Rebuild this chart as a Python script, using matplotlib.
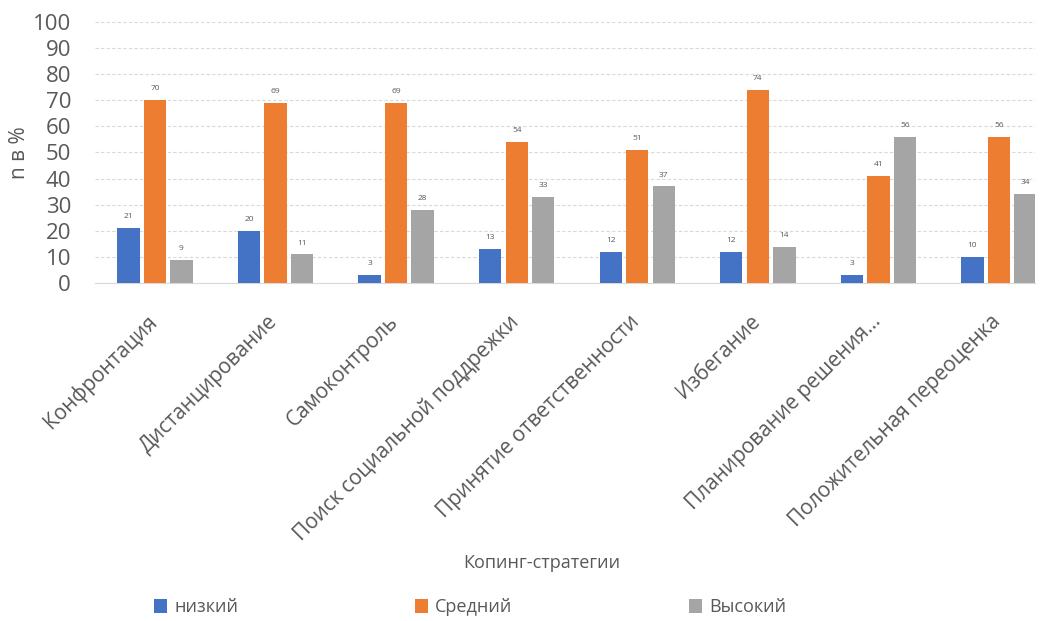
import numpy as np
import matplotlib.pyplot as plt

plt.rcParams['font.family'] = ['Open Sans', 'DejaVu Sans']

categories = ['Конфронтация', 'Дистанцирование', 'Самоконтроль',
              'Поиск социальной поддрежки', 'Принятие ответственности',
              'Избегание', 'Планирование решения...', 'Положительная переоценка']
low = [21, 20, 3, 13, 12, 12, 3, 10]
mid = [70, 69, 69, 54, 51, 74, 41, 56]
high = [9, 11, 28, 33, 37, 14, 56, 34]
series_names = ['низкий', 'Средний', 'Высокий']
colors = ['#4472C4', '#ED7D31', '#A5A5A5']
text_col = '#595959'

fig = plt.figure(figsize=(10.52, 6.21), dpi=100)
ax = fig.add_axes([0.090, 0.544, 0.894, 0.421])

x = np.arange(len(categories))
w = 0.185
off = 0.22
for i, (vals, name, c) in enumerate(zip([low, mid, high], series_names, colors)):
    bars = ax.bar(x + (i - 1) * off, vals, w, color=c, label=name, zorder=3)
    for b, v in zip(bars, vals):
        ax.text(b.get_x() + b.get_width() / 2, v + 3, str(v), ha='center',
                va='bottom', fontsize=6, color=text_col)

ax.set_xlim(-0.5, 7.3)
ax.set_ylim(0, 100)
ax.set_yticks(range(0, 101, 10))
ax.yaxis.grid(True, linestyle=(0, (3, 2)), color='#d9d9d9', linewidth=0.8, zorder=0)
ax.tick_params(axis='y', length=0, labelsize=16, labelcolor=text_col, pad=17)
ax.tick_params(axis='x', length=0, labelcolor=text_col, pad=20)
ax.set_xticks(x - 0.07)
ax.set_xticklabels(categories, rotation=45, ha='right', rotation_mode='anchor',
                   fontsize=15)
for s in ['top', 'right', 'left']:
    ax.spines[s].set_visible(False)
ax.spines['bottom'].set_color('#d9d9d9')

ax.set_ylabel('n в %', fontsize=15, color=text_col, labelpad=2)
fig.text(0.515, 0.094, 'Копинг-стратегии', ha='center', va='center',
         fontsize=13, color=text_col)

fig.legend(loc='center', bbox_to_anchor=(0.447, 0.022), ncol=3, frameon=False,
           fontsize=13, columnspacing=9.8, handlelength=0.7, handleheight=0.8,
           handletextpad=0.4, labelcolor=text_col)

fig.savefig('out.png', dpi=100)
